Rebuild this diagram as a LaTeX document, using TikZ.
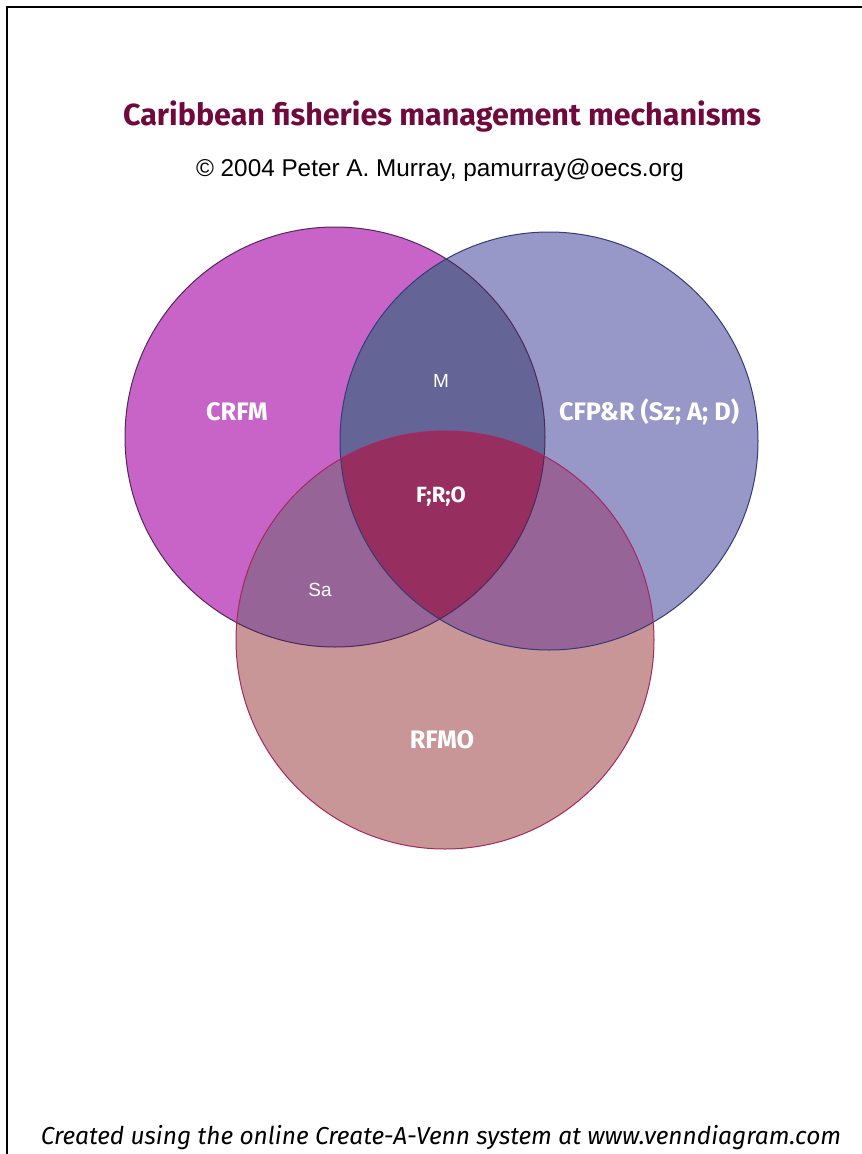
\documentclass[tikz,border=0pt]{standalone}
\usepackage{fontspec}
\setmainfont{Liberation Sans}
\newfontfamily\titlefont{Fira Sans}
\usetikzlibrary{positioning}
\definecolor{crfmFill}{RGB}{200,100,200}
\definecolor{cfpFill}{RGB}{152,152,200}
\definecolor{rfmoFill}{RGB}{200,150,150}
\definecolor{mFill}{RGB}{100,100,150}
\definecolor{saFill}{RGB}{150,100,150}
\definecolor{froFill}{RGB}{150,46,96}
\definecolor{crfmLine}{RGB}{80,40,90}
\definecolor{cfpLine}{RGB}{50,60,120}
\definecolor{rfmoLine}{RGB}{165,40,95}
\definecolor{titleMaroon}{RGB}{112,10,60}

\begin{document}
\begin{tikzpicture}[x=1pt, y=-1pt,
    setlabel/.style={text=white, font=\titlefont\bfseries\fontsize{25.3}{25.3}\selectfont},
    smalllabel/.style={text=white, font=\fontsize{19}{19}\selectfont}]
        \useasboundingbox (0,0) rectangle (862,1154);
        \fill[white] (0,0) rectangle (862,1154);
        \draw[line width=1.5pt] (7,1154) -- (7,7) -- (862,7);
        % the three sets
        \coordinate (cA) at (335,437);
        \coordinate (cB) at (549,441);
        \coordinate (cC) at (445,640);
        \fill[crfmFill] (cA) circle (210pt);
        \fill[cfpFill] (cB) circle (209pt);
        \fill[rfmoFill] (cC) circle (209pt);
        \begin{scope}
          \clip (cA) circle (210pt);
          \fill[mFill] (cB) circle (209pt);
          \fill[saFill] (cC) circle (209pt);
        \end{scope}
        \begin{scope}
          \clip (cB) circle (209pt);
          \fill[saFill] (cC) circle (209pt);
          \clip (cC) circle (209pt);
          \fill[froFill] (cA) circle (210pt);
        \end{scope}
        \draw[crfmLine, line width=1pt] (cA) circle (210pt);
        \draw[cfpLine, line width=1pt] (cB) circle (209pt);
        \draw[rfmoLine, line width=1pt] (cC) circle (209pt);
        % texts
        \node[text=titleMaroon, font=\titlefont\bfseries\fontsize{30.5}{30.5}\selectfont] (title) at (442,117) {Caribbean fisheries management mechanisms};
        \node[font=\fontsize{24.3}{24.3}\selectfont] (credit) at (440,170) {© 2004 Peter A. Murray, pamurray@oecs.org};
        \node[setlabel] (crfm) at (237,412) {CRFM};
        \node[setlabel] (cfp) at (649,412) {CFP\&R (Sz; A; D)};
        \node[setlabel] (rfmo) at (442,740) {RFMO};
        \node[smalllabel] (m) at (441,381) {M};
        \node[smalllabel] (sa) at (320,590) {Sa};
        \node[text=white, font=\titlefont\bfseries\fontsize{22}{22}\selectfont] (fro) at (441,497) {F;R;O};
        \node[font=\titlefont\itshape\fontsize{24.5}{24.5}\selectfont] (footer) at (441,1138) {Created using the online Create-A-Venn system at www.venndiagram.com};
      \end{tikzpicture}
\end{document}
